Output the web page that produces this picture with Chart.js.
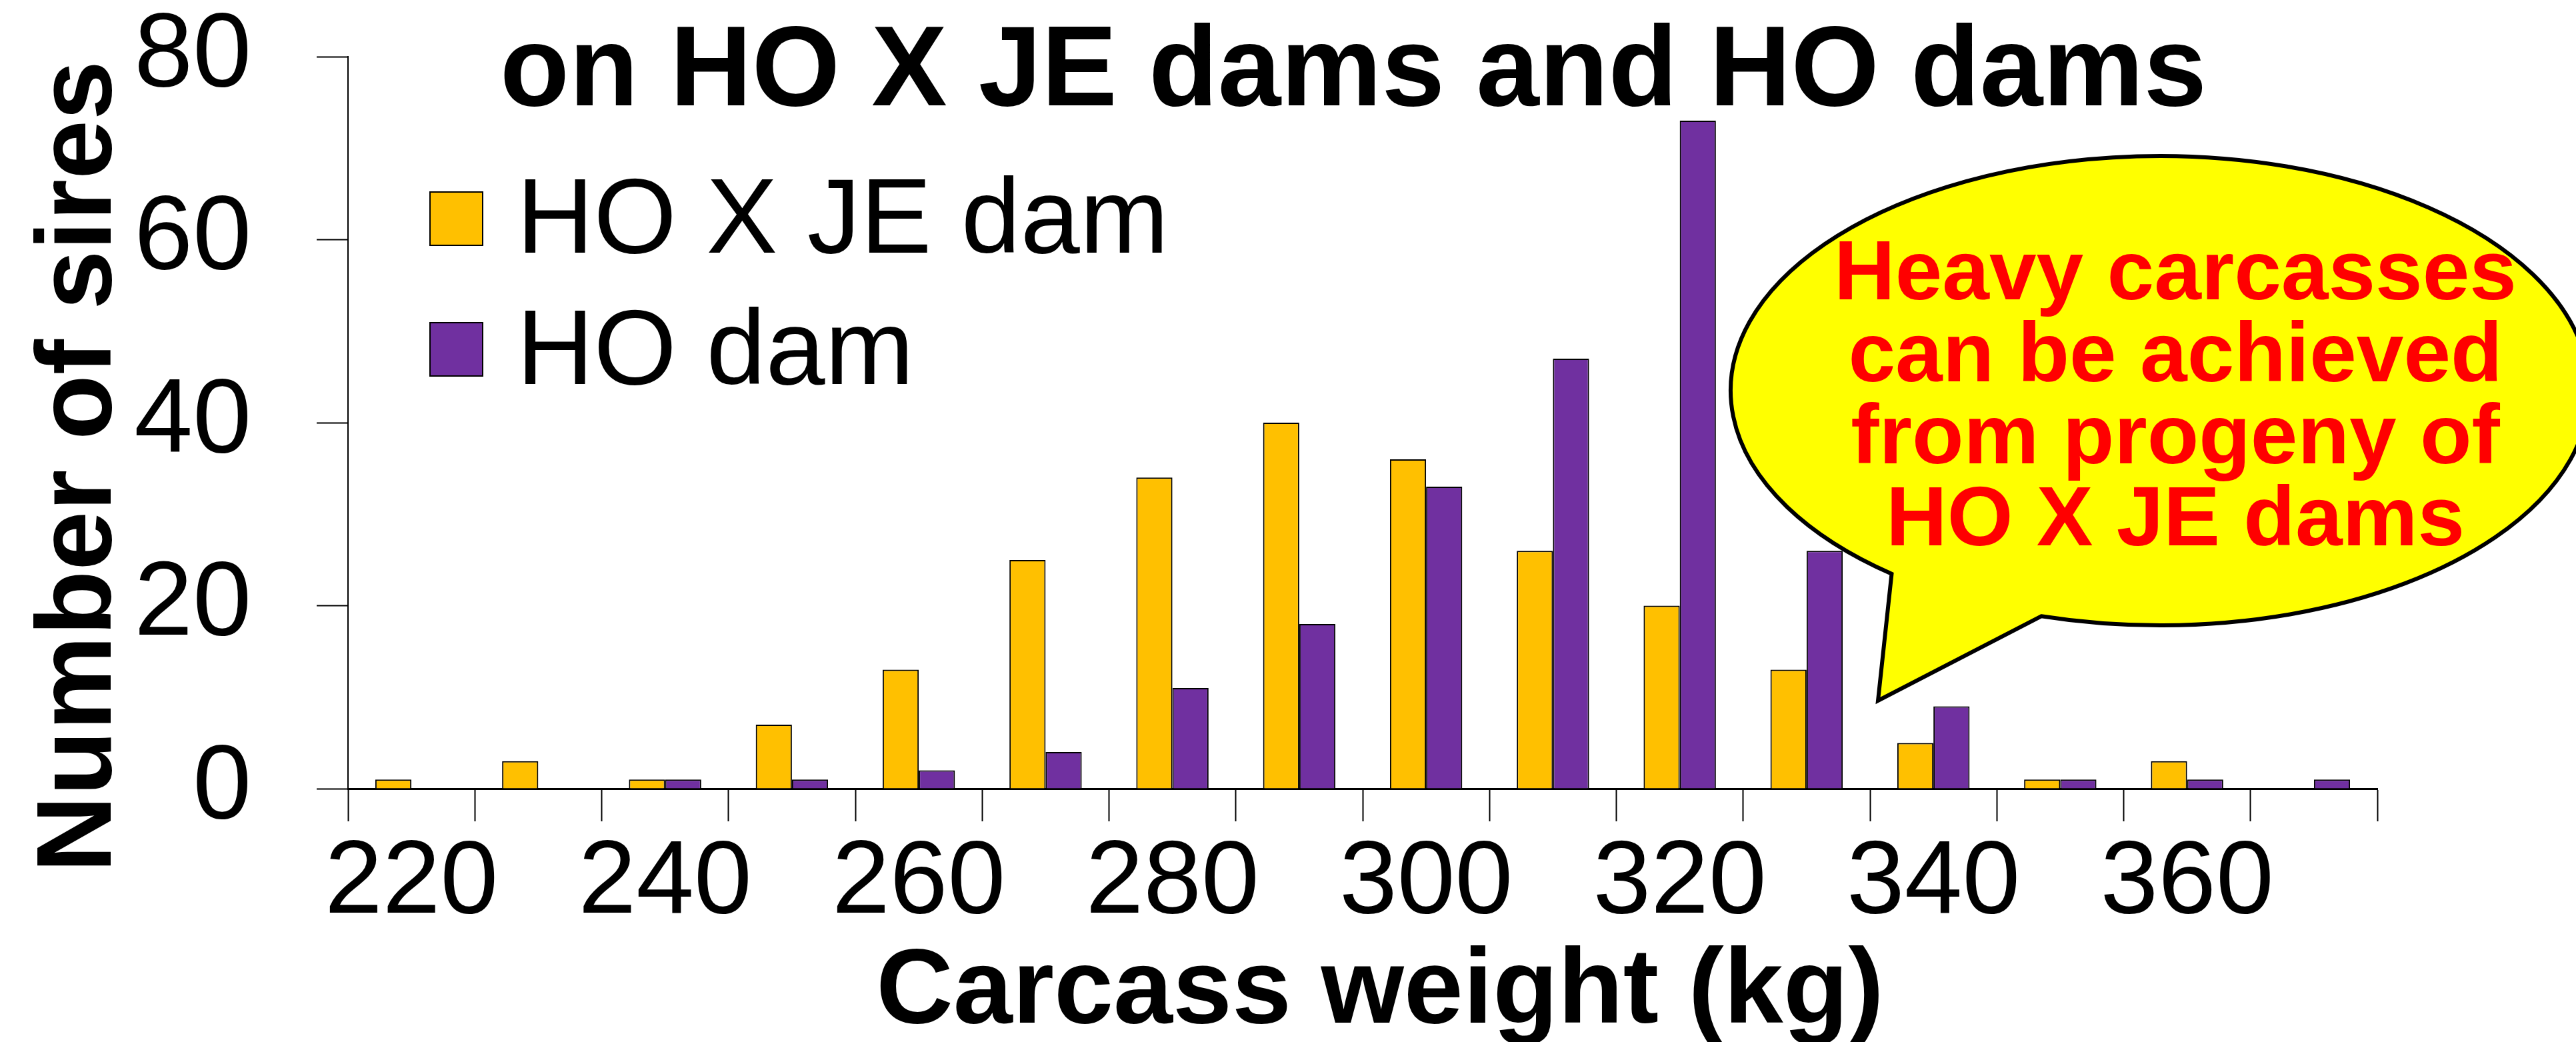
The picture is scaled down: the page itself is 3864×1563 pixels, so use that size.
<!DOCTYPE html>
<html>
<head>
<meta charset="utf-8">
<title>Carcass weight</title>
<script src="https://cdn.jsdelivr.net/npm/chart.js"></script>
<style>
body { margin: 0; background: #fff; }
#wrap { width: 3864px; height: 1563px; position: relative; }
</style>
</head>
<body>
<div id="wrap"><canvas id="chart"></canvas></div>
<script>
// bins of carcass weight (kg), one bar pair per bin
const weights = ['220','230','240','250','260','270','280','290','300','310','320','330','340','350','360','370']
const tickLabels = ['220','','240','','260','','280','','300','','320','','340','','360','']
const hoJeDam = [1,3,1,7,13,25,34,40,36,26,20,13,5,1,3,0]
const hoDam = [0,0,1,1,2,4,11,18,33,47,73,26,9,1,1,1]
const yTicks = [0,20,40,60,80]
const seriesNames = ['HO X JE dam','HO dam']
const seriesColors = ['#FFC000','#7030A0']
const titleText = 'on HO X JE dams and HO dams'
const xTitle = 'Carcass weight (kg)'
const yTitle = 'Number of sires'
const calloutLines = ['Heavy carcasses','can be achieved','from progeny of','HO X JE dams']

const FONT = '"Liberation Sans", Arial, sans-serif'

const extras = {
    id: 'extras',
    afterDraw(chart) {
        const c = chart.ctx
        c.save()
        c.fillStyle = '#000'
        c.textAlign = 'center'
        c.textBaseline = 'alphabetic'

        // title (sits over the plot)
        c.font = 'bold 170px ' + FONT
        c.fillText(titleText, 2030, 158)

        // axis titles
        c.font = 'bold 160px ' + FONT
        c.fillText(xTitle, 2070, 1534)
        c.save()
        c.translate(166, 700)
        c.rotate(-Math.PI / 2)
        c.fillText(yTitle, 0, 0)
        c.restore()

        // legend inside plot
        c.textAlign = 'left'
        c.font = '160px ' + FONT
        chart.data.datasets.forEach(function(ds, i) {
            let top = 288 + i * 196
            c.fillStyle = ds.backgroundColor
            c.fillRect(645, top, 79, 80)
            c.strokeStyle = '#000'
            c.lineWidth = 2
            c.strokeRect(645, top, 79, 80)
            c.fillStyle = '#000'
            c.fillText(ds.label, 775, 379 + i * 197)
        })

        // speech bubble
        const cx = 3240, cy = 586, rx = 644, ry = 352
        c.beginPath()
        c.ellipse(cx, cy, rx, ry, 0, 2.246, 1.851 + Math.PI * 2)
        c.lineTo(2817, 1051)
        c.closePath()
        c.fillStyle = '#FFFF00'
        c.fill()
        c.lineWidth = 6
        c.strokeStyle = '#000'
        c.stroke()

        c.fillStyle = '#FF0000'
        c.textAlign = 'center'
        c.font = 'bold 127px ' + FONT
        for (let i = 0; i < calloutLines.length; i++) {
            c.fillText(calloutLines[i], 3263, 449 + i * 123)
        }
        c.restore()
    }
}

const ctx = document.getElementById('chart')
const myChart = new Chart(ctx, {
    type: 'bar',
    data: {
        labels: weights,
        datasets: [{
            label: seriesNames[0],
            data: hoJeDam,
            backgroundColor: seriesColors[0],
            borderColor: '#000',
            borderWidth: 2,
            categoryPercentage: 0.57,
            barPercentage: 1.0
        },
        {
            label: seriesNames[1],
            data: hoDam,
            backgroundColor: seriesColors[1],
            borderColor: '#000',
            borderWidth: 2,
            categoryPercentage: 0.57,
            barPercentage: 1.0
        }]
    },
    options: {
        responsive: true,
        maintainAspectRatio: false,
        animation: false,
        devicePixelRatio: 1,
        layout: {
            padding: { top: 0, left: 0, right: 298, bottom: 0 }
        },
        plugins: {
            legend: { display: false },
            tooltip: { enabled: false },
            title: { display: false }
        },
        scales: {
            x: {
                type: 'category',
                grid: {
                    drawOnChartArea: false,
                    offset: true,
                    tickLength: 49,
                    tickWidth: 2,
                    tickColor: '#000'
                },
                border: { color: '#000', width: 3 },
                ticks: {
                    autoSkip: false,
                    maxRotation: 0,
                    padding: 0,
                    color: '#000',
                    font: { family: FONT, size: 156 },
                    callback: function(v, i) { return tickLabels[i] }
                },
                afterFit: function(scale) {
                    scale.height = 380
                    scale.paddingLeft = 0
                    scale.paddingRight = 0
                }
            },
            y: {
                min: 0,
                max: 80,
                grid: {
                    drawOnChartArea: false,
                    tickLength: 47,
                    tickWidth: 2,
                    tickColor: '#000'
                },
                border: { color: '#000', width: 2 },
                ticks: {
                    padding: 98,
                    color: '#000',
                    font: { family: FONT, size: 158 }
                },
                afterBuildTicks: function(scale) {
                    scale.ticks = yTicks.map(function(v) { return { value: v } })
                },
                afterFit: function(scale) {
                    scale.width = 522
                    scale.paddingTop = 85
                    scale.paddingBottom = 0
                }
            }
        }
    },
    plugins: [extras]
})
</script>
</body>
</html>
